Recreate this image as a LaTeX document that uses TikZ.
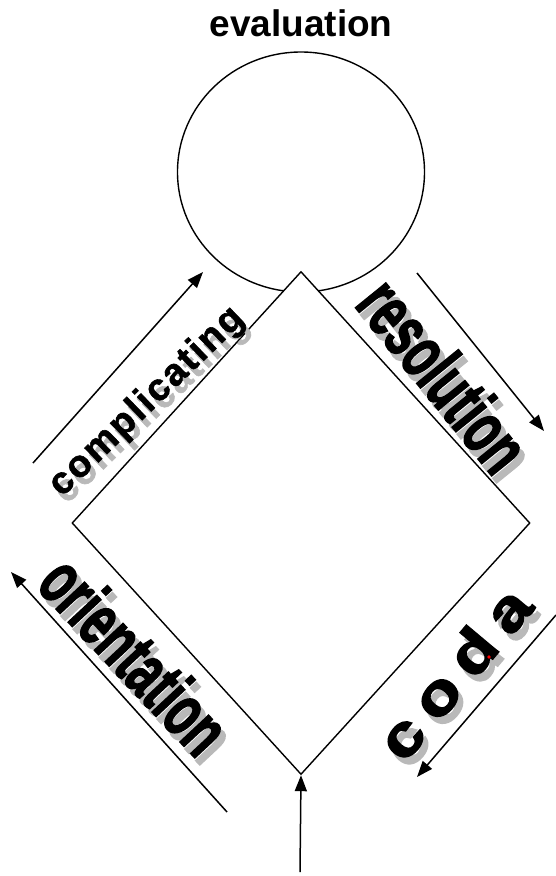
\documentclass[tikz,border=0pt]{standalone}
\usepackage{fontspec}
\setmainfont{Liberation Sans}
\newfontfamily\heavyspaced{Liberation Sans Bold}[FakeBold=1.5, LetterSpace=5]
\newfontfamily\heavy{Liberation Sans Bold}[FakeBold=2.5]
\newfontfamily\heavywide{Liberation Sans Bold}[FakeBold=2.5, LetterSpace=20]
\usetikzlibrary{positioning,calc,arrows.meta,shapes.geometric}

\begin{document}
\begin{tikzpicture}[x=1pt, y=-1pt, >={Triangle[length=16pt,width=12pt]}, every edge/.append style={->, line width=1.5pt}, bubble/.style={ellipse, draw, line width=1.4pt, minimum width=247pt, minimum height=240pt, inner sep=0pt}, kite/.style={diamond, draw, fill=white, line width=1.4pt, minimum width=458pt, minimum height=503pt, inner sep=0pt}, word/.style={inner sep=0pt}, ghost/.style={word, text=gray!55}]

\useasboundingbox (0,0) rectangle (556,876);

\filldraw[black] (301,172) node[bubble] (bubble) {};
\filldraw[black] (301,523) node[kite] (kite) {};
\node[word, font=\bfseries\fontsize{37}{40}\selectfont, above=14pt of bubble] (evaluation) {evaluation};

% labels with their grey shadow
\node[ghost, rotate=44, font=\heavyspaced\fontsize{38}{40}\selectfont] (complicating-sh) at (152,409) {complicating};
\node[word, rotate=44, font=\heavyspaced\fontsize{38}{40}\selectfont] (complicating) at ([shift={(-5,-7)}]complicating-sh) {complicating};
\node[ghost, rotate=-51, font=\heavy\fontsize{64}{68}\selectfont] (resolution-sh) at (449,382) {\scalebox{0.72}[1.15]{resolution}};
\node[word, rotate=-51, font=\heavy\fontsize{64}{68}\selectfont] (resolution) at ([shift={(-5,-7)}]resolution-sh) {\scalebox{0.72}[1.15]{resolution}};
\node[ghost, rotate=-47, font=\heavy\fontsize{64}{68}\selectfont] (orientation-sh) at (140,662) {\scalebox{0.72}[1.15]{orientation}};
\node[word, rotate=-47, font=\heavy\fontsize{64}{68}\selectfont] (orientation) at ([shift={(-5,-7)}]orientation-sh) {\scalebox{0.72}[1.15]{orientation}};
\node[ghost, rotate=50, font=\heavywide\fontsize{58}{62}\selectfont] (coda-sh) at (459,680) {\scalebox{1.2}[1]{coda}};
\node[word, rotate=50, font=\heavywide\fontsize{58}{62}\selectfont] (coda) at ([shift={(-5,-7)}]coda-sh) {\scalebox{1.2}[1]{coda}};
\fill[red] (489,657) circle (1.8pt);

% arrow ends
\coordinate (c1) at (33,463);
\coordinate (c2) at (203,272);
\coordinate (r1) at (417,273);
\coordinate (r2) at (544,431);
\coordinate (o1) at (227,812);
\coordinate (o2) at (11,572);
\coordinate (d1) at (556,615);
\coordinate (d2) at (417,777);
\coordinate (start) at (300,872);

\path
 (c1) edge (c2)
 (r1) edge (r2)
 (o1) edge (o2)
 (d1) edge (d2)
 (start) edge (kite.south);
\end{tikzpicture}
\end{document}
